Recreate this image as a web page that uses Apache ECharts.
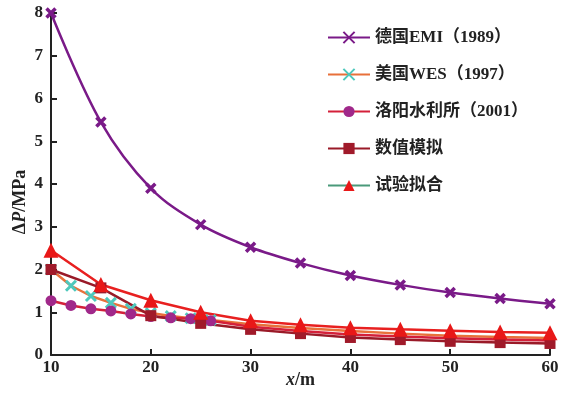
<!DOCTYPE html>
<html><head><meta charset="utf-8">
<script src="https://cdn.jsdelivr.net/npm/echarts@6/dist/echarts.min.js"></script>
<style>html,body{margin:0;padding:0;background:#fff}#c{width:573px;height:393px}</style>
</head><body><div id="c"></div>
<script>
const names = ['德国EMI（1989）', '美国WES（1997）', '洛阳水利所（2001）', '数值模拟', '试验拟合'];
const xs5 = [10, 15, 20, 25, 30, 35, 40, 45, 50, 55, 60];
const xsFine = [10, 12, 14, 16, 18, 20, 22, 24, 26, 30, 35, 40, 45, 50, 55, 60];
const emi = [8.0, 5.45, 3.9, 3.05, 2.52, 2.15, 1.86, 1.64, 1.46, 1.32, 1.2];
const wes = [2.0, 1.62, 1.38, 1.22, 1.08, 0.98, 0.91, 0.86, 0.82, 0.72, 0.63, 0.56, 0.5, 0.45, 0.42, 0.4];
const luoyang = [1.27, 1.16, 1.08, 1.03, 0.96, 0.9, 0.87, 0.85, 0.8, 0.66, 0.56, 0.48, 0.43, 0.39, 0.36, 0.34];
const numeric = [2.0, 1.57, 0.92, 0.74, 0.6, 0.5, 0.41, 0.36, 0.32, 0.29, 0.27];
const testFit = [2.45, 1.65, 1.28, 1.0, 0.8, 0.71, 0.64, 0.6, 0.57, 0.54, 0.52];

const pairs = (xs, ys) => xs.map((x, i) => [x, ys[i]]);
// markers for the early (2 m spaced) points only
const pairsEarlyMarked = (xs, ys) => xs.map((x, i) => (x > 26 ? { value: [x, ys[i]], symbol: 'none' } : [x, ys[i]]));
const cross = 'path://M-1,-1L1,1M1,-1L-1,1';

const chart = echarts.init(document.getElementById('c'));
const serif = '"Liberation Serif","Noto Sans CJK SC",serif';
chart.setOption({
  animation: false,
  grid: { left: 51, right: 23, top: 13, bottom: 38, containLabel: false, outerBoundsMode: 'none' },
  legend: {
    orient: 'vertical', left: 322, top: 24, itemGap: 20, itemWidth: 42, itemHeight: 14,
    textStyle: { fontFamily: serif, fontWeight: 'bold', fontSize: 17, color: '#222' },
    data: [
      { name: names[0] }, { name: names[1] }, { name: names[2] }, { name: names[3] },
      { name: names[4], lineStyle: { color: '#4a9a7a', width: 2, opacity: 1 } }
    ]
  },
  xAxis: {
    type: 'value', min: 10, max: 60, interval: 10,
    name: '{i|x}{n|/m}', nameLocation: 'middle', nameGap: 16, nameMoveOverlap: false,
    nameTextStyle: { rich: {
      i: { fontFamily: serif, fontStyle: 'italic', fontWeight: 'bold', fontSize: 18, color: '#222' },
      n: { fontFamily: serif, fontWeight: 'bold', fontSize: 18, color: '#222' } } },
    axisLine: { lineStyle: { color: '#222', width: 2 } },
    axisTick: { inside: true, length: 6, lineStyle: { width: 2 } },
    axisLabel: { fontFamily: serif, fontWeight: 'bold', fontSize: 17, color: '#222', margin: 4 },
    splitLine: { show: false }
  },
  yAxis: {
    type: 'value', min: 0, max: 8, interval: 1,
    name: '{n|Δ}{i|P}{n|/MPa}', nameLocation: 'middle', nameGap: 22, nameRotate: 90, nameMoveOverlap: false,
    nameTextStyle: { padding: [0, 0, 0, -36], rich: {
      i: { fontFamily: serif, fontStyle: 'italic', fontWeight: 'bold', fontSize: 18, color: '#222' },
      n: { fontFamily: serif, fontWeight: 'bold', fontSize: 18, color: '#222' } } },
    axisLine: { show: true, lineStyle: { color: '#222', width: 2 } },
    axisTick: { show: true, inside: true, length: 6, lineStyle: { width: 2 } },
    axisLabel: { fontFamily: serif, fontWeight: 'bold', fontSize: 17, color: '#222', margin: 8 },
    splitLine: { show: false }
  },
  series: [
    { name: names[0], type: 'line', smooth: 0.35, data: pairs(xs5, emi),
      symbol: cross, symbolSize: 9,
      lineStyle: { color: '#7a1a88', width: 2.5 },
      itemStyle: { color: '#7a1a88', borderColor: '#7a1a88', borderWidth: 3.5 } },
    { name: names[1], type: 'line', data: pairsEarlyMarked(xsFine, wes),
      symbol: cross, symbolSize: 10,
      lineStyle: { color: '#e8703a', width: 2.5 },
      itemStyle: { color: '#4ec8bc', borderColor: '#4ec8bc', borderWidth: 3 } },
    { name: names[2], type: 'line', data: pairsEarlyMarked(xsFine, luoyang),
      symbol: 'circle', symbolSize: 11,
      lineStyle: { color: '#d4203a', width: 2.5 },
      itemStyle: { color: '#a0288a' } },
    { name: names[3], type: 'line', data: pairs(xs5, numeric),
      symbol: 'rect', symbolSize: 11,
      lineStyle: { color: '#9a1a28', width: 2.5 },
      itemStyle: { color: '#a01a2a' } },
    { name: names[4], type: 'line', data: pairs(xs5, testFit),
      symbol: 'triangle', symbolSize: 15,
      lineStyle: { color: '#e82020', width: 2.5 },
      itemStyle: { color: '#e81818' } }
  ]
});
</script></body></html>
